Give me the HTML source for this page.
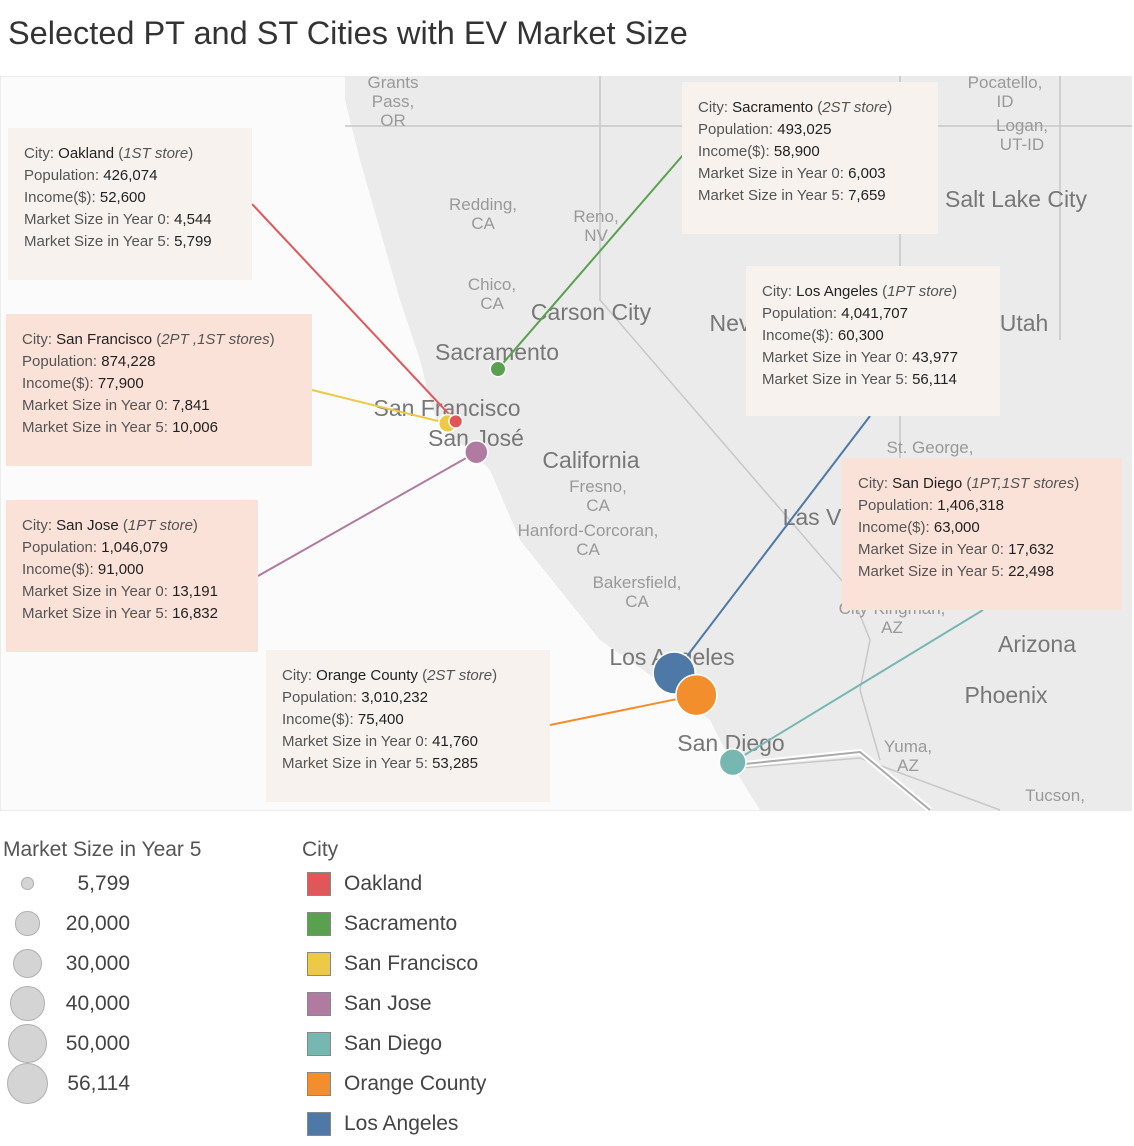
<!DOCTYPE html>
<html><head><meta charset="utf-8"><style>
body{margin:0;width:1134px;height:1146px;background:#fff;font-family:"Liberation Sans",sans-serif;position:relative;overflow:hidden}
.title{position:absolute;left:8px;top:15px;font-size:32.5px;color:#333}
.box{position:absolute;font-size:15px;color:#555;line-height:22px;padding:15px 16px;box-sizing:border-box}
.box b{font-weight:normal;color:#222}
.a{background:#f7f2ee}.p{background:#fae2d8}
.lg{position:absolute;font-size:21px;color:#555}
</style></head><body>
<div class="title">Selected PT and ST Cities with EV Market Size</div>
<svg id="map" style="position:absolute;left:0;top:76px" width="1132" height="735" viewBox="0 76 1132 735">
<rect x="0" y="76" width="1132" height="735" fill="#fbfbfb" stroke="#ddd"/>
<path d="M345,76 L1132,76 L1132,810 L760,810 L735,770 L710,720 L650,675 L600,640 L560,590 L520,540 L490,470 L470,450 L440,430 L430,400 L420,360 L400,300 L380,230 L360,160 L345,100 Z" fill="#ebebeb"/>
<path d="M600,76 L600,300 L850,590 L870,640 L860,690 L880,760 M345,126 L1132,126 M900,76 L900,590 M1060,76 L1060,340 M740,768 L860,758 L1000,810" fill="none" stroke="#c8c8c8" stroke-width="1.5"/>
<path d="M735,765 L860,752 L930,810" fill="none" stroke="#fff" stroke-width="6"/>
<path d="M735,765 L860,752 L930,810" fill="none" stroke="#aaa" stroke-width="2"/>
<g fill="#999" font-size="17" text-anchor="middle">
<text x="393" y="88">Grants</text><text x="393" y="107">Pass,</text><text x="393" y="126">OR</text>
<text x="483" y="210">Redding,</text><text x="483" y="229">CA</text>
<text x="596" y="222">Reno,</text><text x="596" y="241">NV</text>
<text x="492" y="290">Chico,</text><text x="492" y="309">CA</text>
<text x="598" y="492">Fresno,</text><text x="598" y="511">CA</text>
<text x="588" y="536">Hanford-Corcoran,</text><text x="588" y="555">CA</text>
<text x="637" y="588">Bakersfield,</text><text x="637" y="607">CA</text>
<text x="1005" y="88">Pocatello,</text><text x="1005" y="107">ID</text>
<text x="1022" y="131">Logan,</text><text x="1022" y="150">UT-ID</text>
<text x="930" y="453">St. George,</text>
<text x="892" y="614">City-Kingman,</text><text x="892" y="633">AZ</text>
<text x="908" y="752">Yuma,</text><text x="908" y="771">AZ</text>
<text x="1055" y="801">Tucson,</text>
</g>
<g fill="#777" font-size="23" text-anchor="middle">
<text x="1016" y="207">Salt Lake City</text><text x="591" y="320">Carson City</text>
<text x="497" y="360">Sacramento</text><text x="447" y="416">San Francisco</text>
<text x="476" y="446">San José</text><text x="591" y="468">California</text>
<text x="1024" y="331">Utah</text><text x="730" y="331">Nev</text><text x="812" y="525">Las V</text>
<text x="1037" y="652">Arizona</text><text x="1006" y="703">Phoenix</text>
<text x="672" y="665">Los Angeles</text><text x="731" y="751">San Diego</text>
</g>
<g id="marks"></g>
</svg>
<div class="box a" style="left:8px;top:128px;width:244px;height:152px">City: <b>Oakland</b> (<i>1ST store</i>)<br>Population: <b>426,074</b><br>Income($): <b>52,600</b><br>Market Size in Year 0: <b>4,544</b><br>Market Size in Year 5: <b>5,799</b></div>
<div class="box a" style="left:682px;top:82px;width:256px;height:152px">City: <b>Sacramento</b> (<i>2ST store</i>)<br>Population: <b>493,025</b><br>Income($): <b>58,900</b><br>Market Size in Year 0: <b>6,003</b><br>Market Size in Year 5: <b>7,659</b></div>
<div class="box p" style="left:6px;top:314px;width:306px;height:152px">City: <b>San Francisco</b> (<i>2PT ,1ST stores</i>)<br>Population: <b>874,228</b><br>Income($): <b>77,900</b><br>Market Size in Year 0: <b>7,841</b><br>Market Size in Year 5: <b>10,006</b></div>
<div class="box a" style="left:746px;top:266px;width:254px;height:150px">City: <b>Los Angeles</b> (<i>1PT store</i>)<br>Population: <b>4,041,707</b><br>Income($): <b>60,300</b><br>Market Size in Year 0: <b>43,977</b><br>Market Size in Year 5: <b>56,114</b></div>
<div class="box p" style="left:842px;top:458px;width:280px;height:152px">City: <b>San Diego</b> (<i>1PT,1ST stores</i>)<br>Population: <b>1,406,318</b><br>Income($): <b>63,000</b><br>Market Size in Year 0: <b>17,632</b><br>Market Size in Year 5: <b>22,498</b></div>
<div class="box p" style="left:6px;top:500px;width:252px;height:152px">City: <b>San Jose</b> (<i>1PT store</i>)<br>Population: <b>1,046,079</b><br>Income($): <b>91,000</b><br>Market Size in Year 0: <b>13,191</b><br>Market Size in Year 5: <b>16,832</b></div>
<div class="box a" style="left:266px;top:650px;width:284px;height:152px">City: <b>Orange County</b> (<i>2ST store</i>)<br>Population: <b>3,010,232</b><br>Income($): <b>75,400</b><br>Market Size in Year 0: <b>41,760</b><br>Market Size in Year 5: <b>53,285</b></div>

<div class="lg" style="left:3px;top:838px">Market Size in Year 5</div>
<div class="lg" style="left:302px;top:838px">City</div>
<div id="legends"></div>
<script>
const cities=["Oakland","Sacramento","San Francisco","San Jose","San Diego","Orange County","Los Angeles"];
const colors=["#e15759","#59a14f","#edc948","#b07aa1","#76b7b2","#f28e2b","#4e79a7"];
const lon=[-122.27,-121.49,-122.42,-121.89,-117.16,-117.83,-118.24];
const lat=[37.80,38.58,37.77,37.34,32.72,33.72,34.05];
const size5=[5799,7659,10006,16832,22498,53285,56114];
const anchorX=[252,683,312,258,983,550,870];
const anchorY=[204,155,390,576,610,725,416];
const legendSizes=[5799,20000,30000,40000,50000,56114];
const legendLabels=["5,799","20,000","30,000","40,000","50,000","56,114"];
const xs=l=>498+(l+121.49)*54.2, ys=l=>369+(38.58-l)*67.1;
const rs=v=>21*Math.sqrt(v/56114);
const NS="http://www.w3.org/2000/svg",g=document.getElementById('marks');
cities.forEach((c,i)=>{
 const l=document.createElementNS(NS,'line');
 
 
 l.setAttribute('x1',anchorX[i]);l.setAttribute('y1',anchorY[i]);l.setAttribute('x2',xs(lon[i]));l.setAttribute('y2',ys(lat[i]));
 l.setAttribute('stroke',colors[i]);l.setAttribute('stroke-width',2);g.appendChild(l);
});
[6,5,4,3,2,1,0].forEach(i=>{
 const ci=document.createElementNS(NS,'circle');
 
 
 ci.setAttribute('cx',xs(lon[i]));ci.setAttribute('cy',ys(lat[i]));ci.setAttribute('r',rs(size5[i]));
 ci.setAttribute('fill',colors[i]);ci.setAttribute('stroke','#fff');ci.setAttribute('stroke-width',1.5);g.appendChild(ci);
});
const L=document.getElementById('legends');
legendSizes.forEach((v,i)=>{
 const y=884+i*40,r=rs(v);
 const d=document.createElement('div');
 
 
 d.style.cssText=`position:absolute;left:${28-r}px;top:${y-r}px;width:${2*r-3}px;height:${2*r-3}px;border-radius:50%;background:#d4d4d4;border:1.5px solid #b0b0b0`;
 L.appendChild(d);
 const t=document.createElement('div');
 
 
 t.className='lg';t.style.cssText=`right:${1134-130}px;top:${y-12}px;color:#444`;t.textContent=legendLabels[i];L.appendChild(t);
});
cities.forEach((c,i)=>{
 const y=884+i*40;
 const s=document.createElement('div');
 
 
 s.style.cssText=`position:absolute;left:307px;top:${y-12}px;width:22px;height:22px;background:${colors[i]};border:1.5px solid #888`;
 L.appendChild(s);
 const t=document.createElement('div');
 
 
 t.className='lg';t.style.cssText=`left:344px;top:${y-12}px;color:#444`;t.textContent=c;L.appendChild(t);
});
</script>
</body></html>
